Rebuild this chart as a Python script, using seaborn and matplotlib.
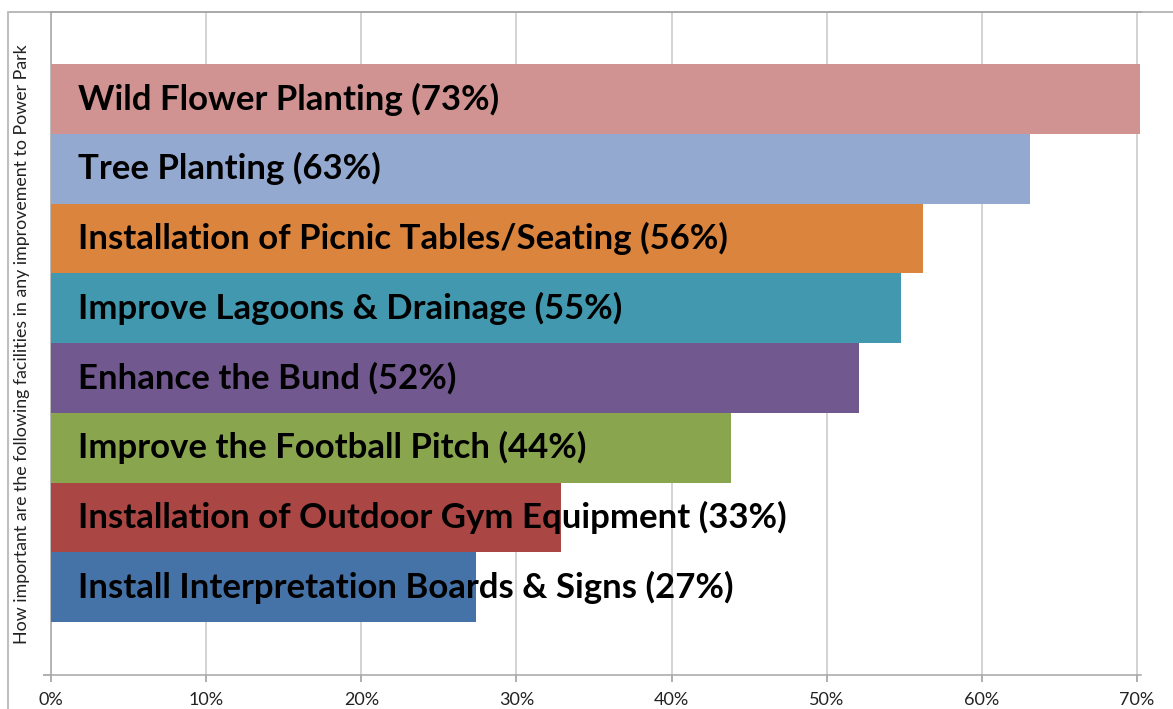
import matplotlib
matplotlib.use("Agg")
import matplotlib.pyplot as plt
import seaborn as sns
import pandas as pd
from matplotlib.lines import Line2D

categories = [
    "Wild Flower Planting (73%)",
    "Tree Planting (63%)",
    "Installation of Picnic Tables/Seating (56%)",
    "Improve Lagoons & Drainage (55%)",
    "Enhance the Bund (52%)",
    "Improve the Football Pitch (44%)",
    "Installation of Outdoor Gym Equipment (33%)",
    "Install Interpretation Boards & Signs (27%)",
]
values = [0.702, 0.631, 0.562, 0.548, 0.521, 0.438, 0.329, 0.274]
colors = ["#D19392", "#93A9CF", "#DB843D", "#4198AF", "#71588F", "#89A54E", "#AA4643", "#4572A7"]
x_ticks = [0.0, 0.1, 0.2, 0.3, 0.4, 0.5, 0.6, 0.7]
x_tick_labels = ["0%", "10%", "20%", "30%", "40%", "50%", "60%", "70%"]
y_title = "How important are the following facilities in any improvement to Power Park"

sns.set_theme(style="white")
plt.rcParams["font.family"] = ["Lato", "DejaVu Sans"]

W, H = 1173, 709
fig = plt.figure(figsize=(W / 100, H / 100), dpi=100)
ax = fig.add_axes([51 / W, 1 - 675 / H, (1141 - 51) / W, (675 - 12) / H])

df = pd.DataFrame({"item": categories, "share": values})
sns.barplot(data=df, y="item", x="share", hue="item", palette=colors,
            orient="h", width=1.0, legend=False, ax=ax, saturation=1,
            linewidth=0, zorder=3)

ax.set_xlim(0, 0.7025)
ax.set_ylim(8.26, -1.25)
ax.set_xticks(x_ticks)
ax.set_xticklabels(x_tick_labels, fontsize=13, color="#222222")
ax.set_yticks([8.26])
ax.set_yticklabels([""])
ax.tick_params(axis="x", direction="out", length=5, color="#A6A6A6", pad=7, bottom=True)
ax.tick_params(axis="y", direction="out", length=6, color="#A6A6A6", left=True)
ax.grid(axis="x", color="#C8C8C8", linewidth=1.1, zorder=0)
ax.set_axisbelow(True)
ax.set_xlabel("")
ax.set_ylabel("")
for side in ["left", "bottom", "top"]:
    ax.spines[side].set_color("#A6A6A6")
    ax.spines[side].set_linewidth(1.1)
ax.spines["right"].set_visible(False)

for i, label in enumerate(categories):
    ax.annotate(label, xy=(0, i), xytext=(19.5, 0), textcoords="offset points",
                ha="left", va="center", fontsize=25, fontweight="bold",
                color="black", zorder=5, annotation_clip=False)

fig.text(22 / W, 1 - 344 / H, y_title, rotation=90, ha="center", va="center",
         fontsize=12.8, color="#222222")

# outer chart frame (top and left edges visible in the crop)
fig.add_artist(Line2D([8 / W, 1.0], [1 - 12 / H, 1 - 12 / H], transform=fig.transFigure,
                      color="#A6A6A6", linewidth=1.1))
fig.add_artist(Line2D([8 / W, 8 / W], [0, 1 - 12 / H], transform=fig.transFigure,
                      color="#BFBFBF", linewidth=1.5))

fig.savefig("out.png", dpi=100)
